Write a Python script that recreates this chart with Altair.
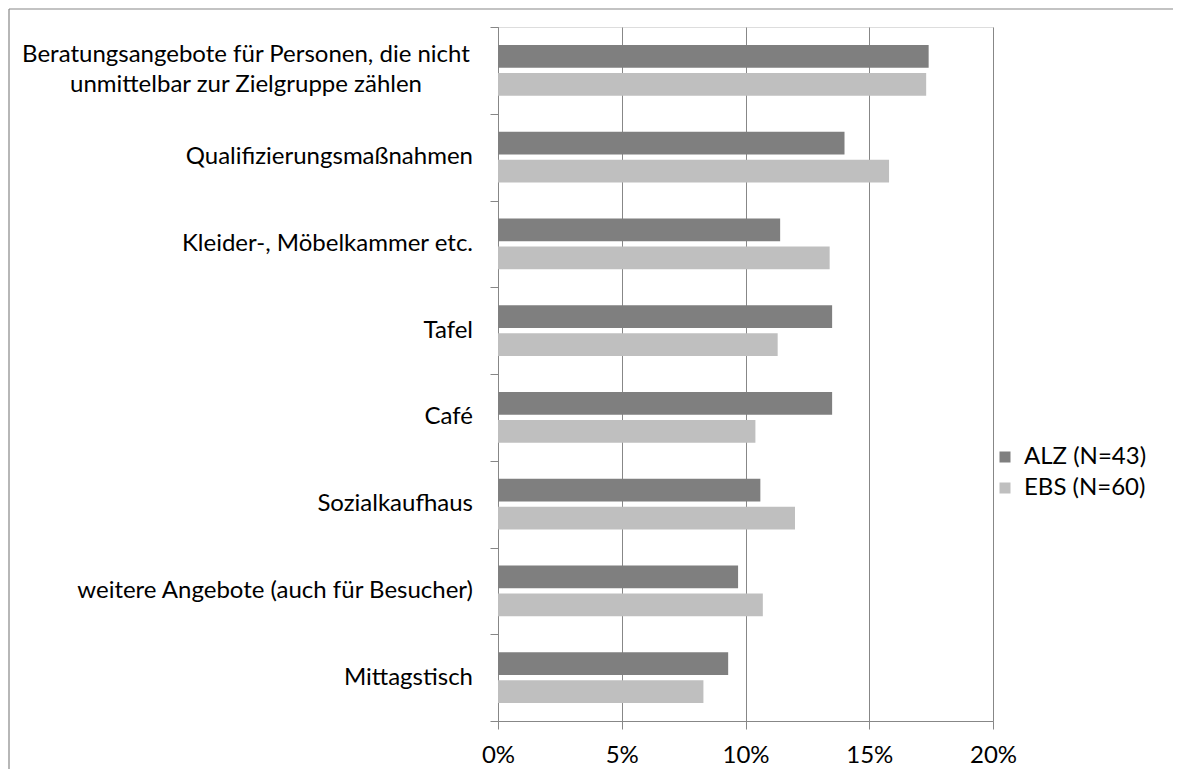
import altair as alt
import pandas as pd

categories = [
    "Beratungsangebote für Personen, die nicht\nunmittelbar zur Zielgruppe zählen",
    "Qualifizierungsmaßnahmen",
    "Kleider-, Möbelkammer etc.",
    "Tafel",
    "Café",
    "Sozialkaufhaus",
    "weitere Angebote (auch für Besucher)",
    "Mittagstisch",
]
series = ["ALZ (N=43)", "EBS (N=60)"]
alz = [17.4, 14.0, 11.4, 13.5, 13.5, 10.6, 9.7, 9.3]
ebs = [17.3, 15.8, 13.4, 11.3, 10.4, 12.0, 10.7, 8.3]
colors = ["#7f7f7f", "#bfbfbf"]
x_ticks = [0, 0.05, 0.10, 0.15, 0.20]

rows = []
for c, a, e in zip(categories, alz, ebs):
    rows.append({"Kategorie": c, "Gruppe": series[0], "Wert": a / 100})
    rows.append({"Kategorie": c, "Gruppe": series[1], "Wert": e / 100})
df = pd.DataFrame(rows)
lab = pd.DataFrame({"Kategorie": categories,
                    "multi": [("\n" in c) for c in categories]})

FONT = "Lato"
FS = 24
GRAY = "#878787"
W, H = 495, 694

yscale = alt.Scale(domain=categories, paddingInner=0, paddingOuter=0)
yaxis = alt.Axis(title=None, labels=False, tickBand="extent", grid=False,
                 domainColor=GRAY, tickColor=GRAY, tickSize=8)

bars = alt.Chart(df).mark_bar().encode(
    x=alt.X("Wert:Q",
            scale=alt.Scale(domain=[0, 0.2]),
            axis=alt.Axis(values=x_ticks, format=".0%", title=None, grid=True,
                          gridColor=GRAY, domainColor=GRAY, labelFlush=False,
                          tickColor=GRAY, tickSize=8, labelPadding=14,
                          labelFontSize=FS, labelFont=FONT, labelColor="#000000")),
    y=alt.Y("Kategorie:N", sort=categories, scale=yscale, axis=yaxis),
    yOffset=alt.YOffset("Gruppe:N", sort=series,
                        scale=alt.Scale(paddingInner=0.18, paddingOuter=0.64)),
    color=alt.Color("Gruppe:N", sort=series,
                    scale=alt.Scale(domain=series, range=colors),
                    legend=alt.Legend(title=None, orient="none", legendX=495, legendY=418,
                                      symbolType="square", symbolSize=121,
                                      symbolStrokeWidth=0, labelFontSize=FS,
                                      labelFont=FONT, labelColor="#000000",
                                      rowPadding=7, labelOffset=7)),
)

single = alt.Chart(lab).transform_filter("!datum.multi").mark_text(
    align="right", baseline="middle", fontSize=FS, font=FONT, color="#000000"
).encode(
    y=alt.Y("Kategorie:N", sort=categories, scale=yscale, axis=yaxis),
    x=alt.value(-25),
    text="Kategorie:N",
)

multi = alt.Chart(lab).transform_filter("datum.multi").mark_text(
    align="center", baseline="middle", fontSize=FS, font=FONT, color="#000000",
    lineBreak="\n", lineHeight=30, dy=-15
).encode(
    y=alt.Y("Kategorie:N", sort=categories, scale=yscale, axis=yaxis),
    x=alt.value(-252),
    text="Kategorie:N",
)

frame = pd.DataFrame({"k": [0]})
top_line = alt.Chart(frame).mark_rule(color=GRAY, strokeWidth=1.2).encode(
    x=alt.value(-489), x2=alt.value(W + 200), y=alt.value(-18))
left_line = alt.Chart(frame).mark_rule(color=GRAY, strokeWidth=1.2).encode(
    x=alt.value(-489), y=alt.value(-18), y2=alt.value(H + 100))

chart = alt.layer(top_line, left_line, bars, single, multi).properties(
    width=W, height=H,
    autosize=alt.AutoSizeParams(type="none"),
    padding={"left": 490, "top": 19, "right": 180, "bottom": 48},
).configure_view(stroke=None).configure(font=FONT)

chart.save("out.html", embed_options={"renderer": "svg", "actions": False})
